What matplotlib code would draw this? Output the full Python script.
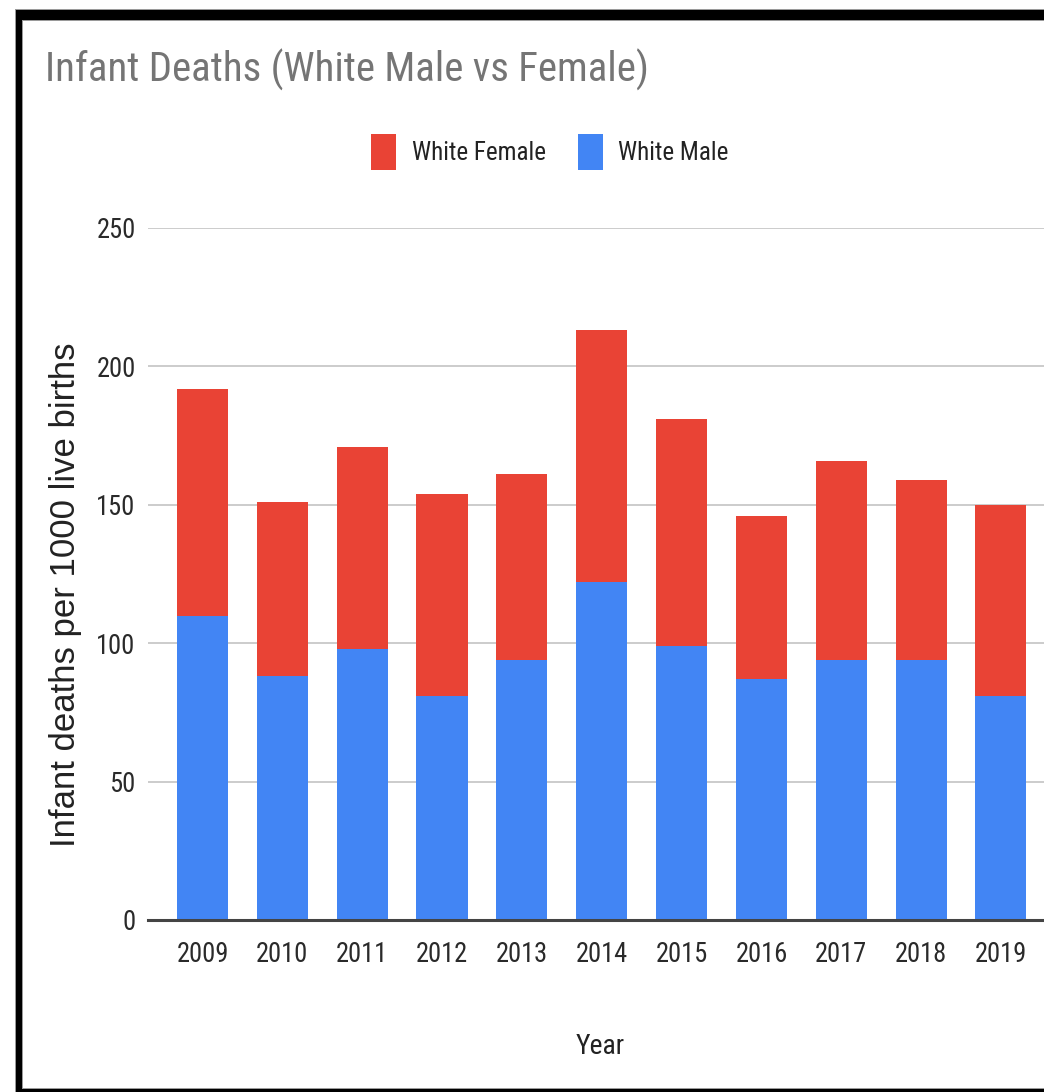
import matplotlib
matplotlib.use("Agg")
import matplotlib.pyplot as plt
from matplotlib import font_manager
from matplotlib.patches import Rectangle

# Infant deaths per 1000 live births, white infants by sex
years = ["2009", "2010", "2011", "2012", "2013", "2014",
         "2015", "2016", "2017", "2018", "2019"]
white_male = [110, 88, 98, 81, 94, 122, 99, 87, 94, 94, 81]
white_female = [82, 63, 73, 73, 67, 91, 82, 59, 72, 65, 69]
y_ticks = [0, 50, 100, 150, 200, 250]

RED = "#E94335"
BLUE = "#4285F4"

# Prefer a condensed face for the chart text; sizes are scaled by its
# relative advance width so that label widths stay the same.
installed = {f.name for f in font_manager.fontManager.ttflist}
NARROW, width_factor = "Liberation Sans", 1.0
for name, wf in [("Roboto Condensed", 0.88), ("Liberation Sans Narrow", 0.82)]:
    if name in installed:
        NARROW, width_factor = name, wf
        break
REGULAR = "Liberation Sans"


def fs(arial_size):
    return arial_size / width_factor


W, H = 1044, 1092
fig = plt.figure(figsize=(W / 100, H / 100), dpi=100)
fig.patch.set_facecolor("white")

left, right, bottom, top = 148, 1044, 920, 228
ax = fig.add_axes([left / W, 1 - bottom / H, (right - left) / W, (bottom - top) / H])

x = list(range(len(years)))
bar_w = 0.64
b_male = ax.bar(x, white_male, width=bar_w, color=BLUE, label="White Male", zorder=2)
b_female = ax.bar(x, white_female, width=bar_w, bottom=white_male, color=RED,
                  label="White Female", zorder=2)

ax.set_xlim(-0.683, 10.54)
ax.set_ylim(0, 250)
ax.set_yticks(y_ticks)
ax.set_xticks(x)
ax.set_xticklabels(years)
ax.grid(axis="y", color="#cccccc", linewidth=1.4, zorder=0)
ax.set_axisbelow(True)
ax.axhline(0, color="#444444", linewidth=2.2, zorder=3, clip_on=False)
for s in ax.spines.values():
    s.set_visible(False)
ax.tick_params(axis="both", length=0, labelsize=fs(16.8), labelcolor="#2a2a2a")
ax.tick_params(axis="x", pad=15)
ax.tick_params(axis="y", pad=9)
for lab in ax.get_xticklabels() + ax.get_yticklabels():
    lab.set_fontfamily(NARROW)

# Title
fig.text(45 / W, 1 - 82 / H, "Infant Deaths (White Male vs Female)",
         fontsize=fs(25.9), family=NARROW, color="#757575", ha="left", va="baseline")

# Legend
leg = fig.legend([b_female, b_male], ["White Female", "White Male"],
                 loc="center", bbox_to_anchor=(550 / W, 1 - 152 / H),
                 ncol=2, frameon=False, prop={"family": NARROW, "size": fs(15.9)},
                 handlelength=1.0, handleheight=1.85, handletextpad=0.6,
                 columnspacing=1.3, labelcolor="#222222")

# Axis titles
fig.text(600 / W, 1 - 1046 / H, "Year", fontsize=fs(17.6), family=NARROW,
         color="#222222", ha="center", va="center")
fig.text(66 / W, 1 - 595 / H, "Infant deaths per 1000 live births", fontsize=25,
         family=REGULAR, color="#222222", rotation=90, ha="center", va="center")

# Black frame (open on the right side)
def frame_band(x0, y0, x1, y1, color="black"):
    fig.patches.append(Rectangle((x0 / W, 1 - y1 / H), (x1 - x0) / W, (y1 - y0) / H,
                                 transform=fig.transFigure, facecolor=color,
                                 edgecolor="none", zorder=10))

frame_band(15, 9, W, 21, color="#9a9a9a")
frame_band(15, 9, 23, H, color="#9a9a9a")
frame_band(15, 1088, W, H, color="#9a9a9a")
frame_band(16, 10, W, 20)
frame_band(16, 10, 22, H)
frame_band(16, 1089, W, H)

fig.savefig("out.png", dpi=100, facecolor="white")
